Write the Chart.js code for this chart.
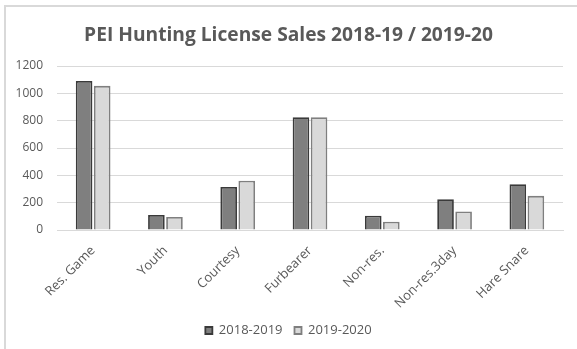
<!DOCTYPE html>
<html>
<head>
<meta charset="utf-8">
<script src="https://cdn.jsdelivr.net/npm/chart.js@4/dist/chart.umd.min.js"></script>
<style>
  html, body { margin: 0; padding: 0; background: #ffffff; }
  #wrap { position: relative; width: 577px; height: 349px; }
</style>
</head>
<body>
<div id="wrap"><canvas id="chart" width="577" height="349"></canvas></div>
<script>
// Licence types and yearly sales
const categories = ["Res. Game", "Youth", "Courtesy", "Furbearer", "Non-res.", "Non-res.3day", "Hare Snare"];
const sales2018_2019 = [1090, 110, 315, 825, 105, 225, 335];
const sales2019_2020 = [1055, 95, 360, 825, 60, 135, 250];
const seriesNames = ["2018-2019", "2019-2020"];
const yTicks = [0, 200, 400, 600, 800, 1000, 1200];

const textColor = "#595959";
const gridColor = "#d9d9d9";
const fontFamily = "'Open Sans', 'Noto Sans', sans-serif";

// Thin frame along the top and left edge of the chart
const framePlugin = {
  id: "frame",
  beforeDraw(chart) {
    const ctx = chart.ctx;
    ctx.save();
    ctx.fillStyle = "#ffffff";
    ctx.fillRect(0, 0, chart.width, chart.height);
    ctx.strokeStyle = "#d9d9d9";
    ctx.lineWidth = 2;
    ctx.beginPath();
    ctx.moveTo(5, chart.height);
    ctx.lineTo(5, 6);
    ctx.lineTo(chart.width, 6);
    ctx.stroke();
    ctx.restore();
  }
};

new Chart(document.getElementById("chart"), {
  type: "bar",
  data: {
    labels: categories,
    datasets: [
      {
        label: seriesNames[0],
        data: sales2018_2019,
        backgroundColor: "#7f7f7f",
        borderColor: "#3a3a3a",
        borderWidth: 1.8,
        categoryPercentage: 0.5,
        barPercentage: 0.92
      },
      {
        label: seriesNames[1],
        data: sales2019_2020,
        backgroundColor: "#d9d9d9",
        borderColor: "#7f7f7f",
        borderWidth: 1.8,
        categoryPercentage: 0.5,
        barPercentage: 0.92
      }
    ]
  },
  options: {
    responsive: false,
    animation: false,
    devicePixelRatio: 1,
    layout: { padding: { left: 0, right: 0, top: 0, bottom: 2 } },
    plugins: {
      title: {
        display: true,
        text: "PEI Hunting License Sales 2018-19 / 2019-20",
        color: textColor,
        font: { family: fontFamily, size: 19.2, weight: "bold" },
        padding: { top: 24, bottom: 19 }
      },
      legend: {
        display: true,
        position: "bottom",
        labels: {
          color: textColor,
          font: { family: fontFamily, size: 13 },
          boxWidth: 7,
          boxHeight: 7,
          padding: 12
        }
      },
      tooltip: { enabled: false }
    },
    scales: {
      x: {
        grid: { display: false, drawTicks: false },
        border: { display: true, color: gridColor, width: 1 },
        ticks: {
          color: textColor,
          font: { family: fontFamily, size: 13 },
          minRotation: 45,
          maxRotation: 45,
          padding: 13
        },
        afterFit(scale) { scale.height = 82; }
      },
      y: {
        min: 0,
        max: 1200,
        grid: { color: gridColor, drawTicks: false, lineWidth: 1 },
        border: { display: false },
        afterBuildTicks(scale) { scale.ticks = yTicks.map(v => ({ value: v })); },
        ticks: {
          color: textColor,
          font: { family: fontFamily, size: 12 },
          padding: 14,
          callback: (value) => String(value)
        },
        afterFit(scale) { scale.width = 57; }
      },
      // empty right-hand gutter so the plot stops short of the edge
      gutter: {
        position: "right",
        display: true,
        grid: { display: false, drawTicks: false },
        border: { display: false },
        ticks: { display: false },
        afterFit(scale) { scale.width = 14; }
      }
    }
  },
  plugins: [framePlugin]
});
</script>
</body>
</html>
